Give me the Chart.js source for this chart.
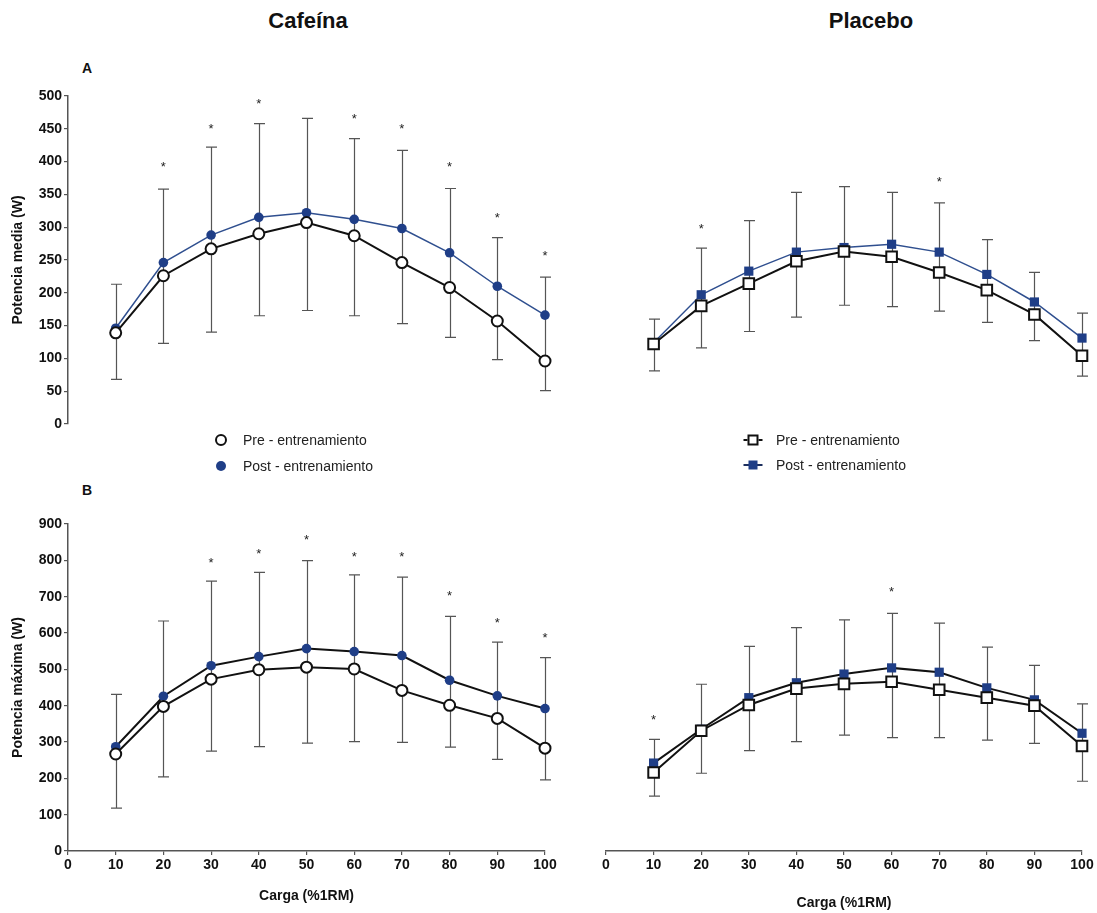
<!DOCTYPE html>
<html>
<head>
<meta charset="utf-8">
<script src="https://cdn.jsdelivr.net/npm/chart.js@4.4.1/dist/chart.umd.min.js"></script>
<style>
  body { margin: 0; background: #fff; }
  #lienzo { position: relative; width: 1097px; height: 913px; font-family: "Liberation Sans", Arial, sans-serif; color: #111; }
  #lienzo canvas { position: absolute; }
  .titulo { position: absolute; font-weight: bold; font-size: 22px; transform: translate(-50%, -50%); }
  .letra { position: absolute; font-weight: bold; font-size: 14px; transform: translate(-50%, -50%); }
  .ley { position: absolute; font-size: 14px; color: #222; line-height: 1; transform: translateY(-50%); white-space: nowrap; }
  .mk { position: absolute; transform: translate(-50%, -50%); box-sizing: border-box; }
</style>
</head>
<body>
<div id="lienzo">
  <div class="titulo" style="left:308px; top:21px;">Cafeína</div>
  <div class="titulo" style="left:871px; top:21px;">Placebo</div>
  <div class="letra" style="left:87px; top:68px;">A</div>
  <div class="letra" style="left:87px; top:490px;">B</div>

  <canvas id="cafMedia" width="560" height="360" style="left:0; top:80px;"></canvas>
  <canvas id="plaMedia" width="537" height="360" style="left:560px; top:80px;"></canvas>
  <canvas id="cafMax" width="560" height="413" style="left:0; top:500px;"></canvas>
  <canvas id="plaMax" width="537" height="413" style="left:560px; top:500px;"></canvas>

  <!-- leyenda cafeína -->
  <div class="mk" style="left:221px; top:440px; width:12px; height:12px; border:2px solid #111; border-radius:50%; background:#fff;"></div>
  <div class="ley" style="left:243px; top:440px;">Pre - entrenamiento</div>
  <div class="mk" style="left:221px; top:466px; width:10px; height:10px; border-radius:50%; background:#1f3e87;"></div>
  <div class="ley" style="left:243px; top:466px;">Post - entrenamiento</div>

  <!-- leyenda placebo -->
  <div class="mk" style="left:753px; top:440px; width:19px; height:2px; background:#111;"></div>
  <div class="mk" style="left:753px; top:440px; width:11px; height:11px; border:2px solid #111; background:#fff;"></div>
  <div class="ley" style="left:776px; top:440px;">Pre - entrenamiento</div>
  <div class="mk" style="left:753px; top:465px; width:19px; height:2px; background:#1c2f5e;"></div>
  <div class="mk" style="left:753px; top:465px; width:9px; height:9px; background:#1f3e87;"></div>
  <div class="ley" style="left:776px; top:465px;">Post - entrenamiento</div>
</div>

<script>
const cargas = [10, 20, 30, 40, 50, 60, 70, 80, 90, 100];
const ticksX = [0, 10, 20, 30, 40, 50, 60, 70, 80, 90, 100];
const ticksMedia = [0, 50, 100, 150, 200, 250, 300, 350, 400, 450, 500];
const ticksMax = [0, 100, 200, 300, 400, 500, 600, 700, 800, 900];

// Cafeína - potencia media
const cafMediaPre = [139, 226, 267, 290, 307, 287, 246, 208, 157, 96];
const cafMediaPost = [146, 246, 288, 315, 322, 312, 298, 261, 210, 166];
const cafMediaSup = [213, 358, 422, 458, 466, 435, 417, 359, 284, 224];
const cafMediaInf = [68, 123, 140, 165, 173, 165, 153, 132, 98, 51];
const cafMediaAst = [null, 397, 455, 493, null, 470, 454, 397, 318, 261];

// Placebo - potencia media
const plaMediaPre = [122, 180, 214, 248, 263, 255, 231, 204, 167, 104];
const plaMediaPost = [124, 197, 233, 262, 269, 274, 262, 228, 186, 131];
const plaMediaSup = [160, 268, 310, 353, 362, 353, 337, 281, 231, 169];
const plaMediaInf = [81, 116, 141, 163, 181, 179, 172, 155, 127, 73];
const plaMediaAst = [null, 302, null, null, null, null, 373, null, null, null];

// Cafeína - potencia máxima
const cafMaxPre = [267, 398, 473, 499, 506, 501, 442, 401, 365, 283];
const cafMaxPost = [287, 426, 510, 535, 557, 549, 538, 470, 427, 392];
const cafMaxSup = [431, 633, 743, 767, 799, 760, 754, 646, 575, 532];
const cafMaxInf = [118, 204, 275, 287, 297, 301, 299, 286, 252, 196];
const cafMaxAst = [null, null, 801, 827, 863, 817, 817, 709, 636, 594];

// Placebo - potencia máxima
const plaMaxPre = [216, 331, 402, 447, 460, 466, 444, 422, 400, 289];
const plaMaxPost = [242, 335, 422, 463, 487, 504, 492, 449, 416, 324];
const plaMaxSup = [307, 459, 563, 615, 636, 654, 627, 561, 511, 405];
const plaMaxInf = [151, 214, 276, 301, 319, 312, 312, 305, 296, 192];
const plaMaxAst = [368, null, null, null, null, 721, null, null, null, null];

const AZUL = '#1f3e87';
const FUENTE = '"Liberation Sans", Arial, sans-serif';

// barras de error (detrás de las líneas) y asteriscos
function barrasError(sup, inf, ast) {
  return {
    id: 'barrasError',
    beforeDatasetsDraw(chart) {
      const { ctx, scales: { x, y } } = chart;
      ctx.save();
      ctx.strokeStyle = '#555';
      ctx.lineWidth = 1.2;
      cargas.forEach((c, i) => {
        const px = Math.round(x.getPixelForValue(c)) + 0.5;
        const arriba = y.getPixelForValue(sup[i]);
        const abajo = y.getPixelForValue(inf[i]);
        ctx.beginPath();
        ctx.moveTo(px, arriba); ctx.lineTo(px, abajo);
        ctx.moveTo(px - 5.5, arriba); ctx.lineTo(px + 5.5, arriba);
        ctx.moveTo(px - 5.5, abajo); ctx.lineTo(px + 5.5, abajo);
        ctx.stroke();
      });
      ctx.restore();
    },
    afterDatasetsDraw(chart) {
      const { ctx, scales: { x, y } } = chart;
      ctx.save();
      ctx.fillStyle = '#222';
      ctx.font = '13px ' + FUENTE;
      ctx.textAlign = 'center';
      ctx.textBaseline = 'alphabetic';
      cargas.forEach((c, i) => {
        if (ast[i] == null) return;
        ctx.fillText('*', x.getPixelForValue(c), y.getPixelForValue(ast[i]) + 7);
      });
      ctx.restore();
    }
  };
}

function crearPanel(id, p) {
  const ctx = document.getElementById(id).getContext('2d');
  const puntos = (vals) => cargas.map((c, i) => ({ x: c, y: vals[i] }));
  const cuadrado = p.marcador === 'rect';

  return new Chart(ctx, {
    type: 'line',
    data: {
      datasets: [
        {
          label: 'Pre - entrenamiento',
          data: puntos(p.pre),
          borderColor: '#111',
          borderWidth: 2,
          pointStyle: p.marcador,
          pointRadius: cuadrado ? 7.5 : 5.5,
          pointBorderWidth: 2,
          pointBackgroundColor: '#fff',
          pointBorderColor: '#111',
          tension: 0,
          clip: false
        },
        {
          label: 'Post - entrenamiento',
          data: puntos(p.post),
          borderColor: p.lineaPost,
          borderWidth: p.anchoPost,
          pointStyle: p.marcador,
          pointRadius: cuadrado ? 6.5 : 4.8,
          pointBorderWidth: 0,
          pointBackgroundColor: AZUL,
          pointBorderColor: AZUL,
          tension: 0,
          clip: false
        }
      ]
    },
    options: {
      responsive: false,
      animation: false,
      devicePixelRatio: 1,
      events: [],
      layout: { padding: p.padding },
      plugins: {
        legend: { display: false },
        tooltip: { enabled: false }
      },
      scales: {
        x: {
          type: 'linear',
          min: 0,
          max: 100,
          display: p.verX,
          afterBuildTicks: (s) => { s.ticks = ticksX.map(v => ({ value: v })); },
          afterFit: (s) => { if (p.verX) s.height = 62; },
          grid: { drawOnChartArea: false, drawTicks: true, tickLength: 4, color: '#555', lineWidth: 1.2 },
          border: { color: '#555', width: 1.5 },
          ticks: { font: { family: FUENTE, size: 14, weight: 'bold' }, color: '#111', padding: 2, maxRotation: 0 },
          title: {
            display: true,
            text: 'Carga (%1RM)',
            font: { family: FUENTE, size: 14, weight: 'bold' },
            color: '#111',
            padding: { top: 0, bottom: p.padTituloX }
          }
        },
        y: {
          min: 0,
          max: p.yMax,
          display: p.verY,
          afterBuildTicks: (s) => { s.ticks = p.ticksY.map(v => ({ value: v })); },
          afterFit: (s) => { if (p.verY) s.width = 68; },
          grid: { drawOnChartArea: false, drawTicks: true, tickLength: 4, color: '#555', lineWidth: 1.2 },
          border: { color: '#555', width: 1.5 },
          ticks: { font: { family: FUENTE, size: 14, weight: 'bold' }, color: '#111', padding: 2 },
          title: {
            display: true,
            text: p.tituloY,
            font: { family: FUENTE, size: 14, weight: 'bold' },
            color: '#111',
            padding: { top: 10, bottom: 0 }
          }
        }
      }
    },
    plugins: [barrasError(p.sup, p.inf, p.ast)]
  });
}

crearPanel('cafMedia', {
  pre: cafMediaPre, post: cafMediaPost, sup: cafMediaSup, inf: cafMediaInf, ast: cafMediaAst,
  marcador: 'circle', lineaPost: '#2f4f8f', anchoPost: 1.5,
  yMax: 500, ticksY: ticksMedia, tituloY: 'Potencia media (W)',
  verX: false, verY: true, padTituloX: 0,
  padding: { left: 0, right: 15, top: 16, bottom: 16 }
});

crearPanel('plaMedia', {
  pre: plaMediaPre, post: plaMediaPost, sup: plaMediaSup, inf: plaMediaInf, ast: plaMediaAst,
  marcador: 'rect', lineaPost: '#2f4f8f', anchoPost: 1.5,
  yMax: 500, ticksY: ticksMedia, tituloY: '',
  verX: false, verY: false, padTituloX: 0,
  padding: { left: 46, right: 15, top: 16, bottom: 16 }
});

crearPanel('cafMax', {
  pre: cafMaxPre, post: cafMaxPost, sup: cafMaxSup, inf: cafMaxInf, ast: cafMaxAst,
  marcador: 'circle', lineaPost: '#111', anchoPost: 2,
  yMax: 900, ticksY: ticksMax, tituloY: 'Potencia máxima (W)',
  verX: true, verY: true, padTituloX: 8,
  padding: { left: 0, right: 15, top: 24, bottom: 0 }
});

crearPanel('plaMax', {
  pre: plaMaxPre, post: plaMaxPost, sup: plaMaxSup, inf: plaMaxInf, ast: plaMaxAst,
  marcador: 'rect', lineaPost: '#111', anchoPost: 2,
  yMax: 900, ticksY: ticksMax, tituloY: '',
  verX: true, verY: false, padTituloX: 1,
  padding: { left: 46, right: 15, top: 24, bottom: 0 }
});
</script>
</body>
</html>
